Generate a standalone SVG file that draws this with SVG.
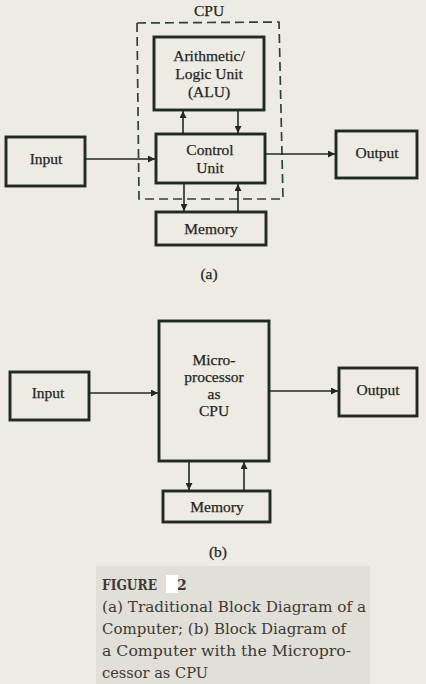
<svg xmlns="http://www.w3.org/2000/svg" width="426" height="684" viewBox="0 0 426 684">
<defs>
<marker id="ah" viewBox="0 0 10 10" refX="10" refY="5" markerWidth="8" markerHeight="7" markerUnits="userSpaceOnUse" orient="auto">
<path d="M0,0 L10,5 L0,10 z" fill="#1f2a22"/>
</marker>
<style>
.box{fill:none;stroke:#1f2a22;stroke-width:2.9}
.dash{fill:none;stroke:#2b4430;stroke-width:1.7;stroke-dasharray:9 5}
.ln{fill:none;stroke:#1f2a22;stroke-width:1.6;marker-end:url(#ah)}
.t{font-family:"Liberation Serif","Times New Roman",serif;font-size:15.5px;fill:#1e2620;stroke:#1e2620;stroke-width:0.25;text-anchor:middle}
.cap{font-family:"DejaVu Serif",serif;font-size:14px;fill:#3a3a36}
</style>
</defs>
<rect x="0" y="0" width="426" height="684" fill="#eeebe4"/>
<rect x="96" y="566" width="274" height="118" fill="#e2dfd8"/>

<g id="cpu-boundary">
<polygon class="dash" points="137,23 279,22 283,199 139,199"/>
<text class="t" x="209" y="16">CPU</text>
</g>
<g id="alu">
<rect class="box" x="154" y="37" width="110" height="73"/>
<text class="t" x="209" y="61">Arithmetic/</text>
<text class="t" x="209" y="79">Logic Unit</text>
<text class="t" x="209" y="97">(ALU)</text>
</g>
<g id="control-unit">
<rect class="box" x="156" y="134" width="109" height="49"/>
<text class="t" x="210" y="155">Control</text>
<text class="t" x="210" y="173">Unit</text>
</g>
<g id="input-a">
<rect class="box" x="6" y="137" width="79" height="49"/>
<text class="t" x="46" y="164">Input</text>
</g>
<g id="output-a">
<rect class="box" x="336" y="131" width="81" height="47"/>
<text class="t" x="377" y="158">Output</text>
</g>
<g id="memory-a">
<rect class="box" x="156" y="212" width="110" height="33"/>
<text class="t" x="211" y="234">Memory</text>
</g>
<text class="t" x="209" y="279">(a)</text>

<g id="microprocessor">
<rect class="box" x="159" y="321" width="110" height="140"/>
<text class="t" x="214" y="365">Micro-</text>
<text class="t" x="214" y="382">processor</text>
<text class="t" x="214" y="399">as</text>
<text class="t" x="214" y="416">CPU</text>
</g>
<g id="input-b">
<rect class="box" x="10" y="372" width="79" height="48"/>
<text class="t" x="48" y="398">Input</text>
</g>
<g id="output-b">
<rect class="box" x="339" y="368" width="78" height="48"/>
<text class="t" x="378" y="395">Output</text>
</g>
<g id="memory-b">
<rect class="box" x="163" y="491" width="107" height="31"/>
<text class="t" x="217" y="512">Memory</text>
</g>
<text class="t" x="218" y="557">(b)</text>

<g id="connectors">
<line class="ln" x1="86" y1="159" x2="155" y2="159"/>
<line class="ln" x1="266" y1="154" x2="335" y2="154"/>
<line class="ln" x1="183" y1="133" x2="183" y2="111"/>
<line class="ln" x1="238" y1="111" x2="238" y2="133"/>
<line class="ln" x1="184" y1="184" x2="184" y2="211"/>
<line class="ln" x1="238" y1="211" x2="238" y2="184"/>
<line class="ln" x1="90" y1="393" x2="158" y2="393"/>
<line class="ln" x1="270" y1="391" x2="338" y2="391"/>
<line class="ln" x1="189" y1="462" x2="189" y2="490"/>
<line class="ln" x1="244" y1="490" x2="244" y2="462"/>
</g>

<g id="caption">
<text class="cap" x="102" y="590" font-weight="bold" font-size="15" textLength="55" lengthAdjust="spacingAndGlyphs">FIGURE</text>
<rect x="166" y="575" width="12" height="18" fill="#ffffff"/>
<text class="cap" x="177" y="590" font-weight="bold" font-size="15">2</text>
<text class="cap" x="102" y="612" textLength="264" lengthAdjust="spacingAndGlyphs">(a) Traditional Block Diagram of a</text>
<text class="cap" x="102" y="634" textLength="244" lengthAdjust="spacingAndGlyphs">Computer; (b) Block Diagram of</text>
<text class="cap" x="102" y="656" textLength="249" lengthAdjust="spacingAndGlyphs">a Computer with the Micropro-</text>
<text class="cap" x="102" y="678" textLength="106" lengthAdjust="spacingAndGlyphs">cessor as CPU</text>
</g>
</svg>
